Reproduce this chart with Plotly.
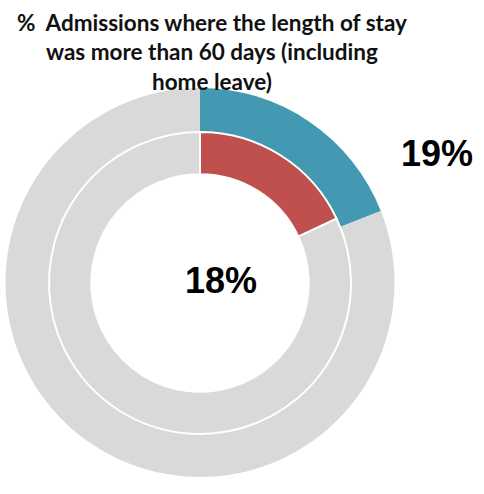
import plotly.graph_objects as go

W, H = 484, 494
outer_labels = ["More than 60 days", "Other"]
outer_values = [19, 81]
inner_labels = ["More than 60 days", "Other"]
inner_values = [18, 82]
title_lines = ["%  Admissions where the length of stay", "was more than 60 days (including", "home leave)"]
outer_text = "19%"
inner_text = "18%"

teal = "#4399B1"
red = "#C0504D"
gray = "#D9D9D9"

def px_dom(x0, x1, y0, y1):
    return dict(x=[x0 / W, x1 / W], y=[1 - y1 / H, 1 - y0 / H])

fig = go.Figure()
fig.add_trace(go.Pie(
    labels=outer_labels, values=outer_values, sort=False, direction="clockwise", rotation=0,
    hole=150 / 194.5, marker=dict(colors=[teal, gray], line=dict(width=0)),
    textinfo="none", hoverinfo="label+value", domain=px_dom(5.5, 394.5, 88, 477), showlegend=False))
fig.add_trace(go.Pie(
    labels=inner_labels, values=inner_values, sort=False, direction="clockwise", rotation=0,
    hole=108 / 150, marker=dict(colors=[red, gray], line=dict(color="white", width=2)),
    textinfo="none", hoverinfo="label+value", domain=px_dom(49, 351, 132, 434), showlegend=False))

fig.add_annotation(text="<br>".join(title_lines), x=212 / W, y=1 - 7 / H, xref="paper", yref="paper",
                   xanchor="center", yanchor="top", showarrow=False, align="center",
                   font=dict(family="Lato", size=22.5, color="#111111", weight="bold"))
fig.add_annotation(text=outer_text, x=437 / W, y=1 - 153 / H, xref="paper", yref="paper",
                   xanchor="center", yanchor="middle", showarrow=False,
                   font=dict(family="Liberation Sans", size=36, color="black", weight="bold"))
fig.add_annotation(text=inner_text, x=221 / W, y=1 - 280 / H, xref="paper", yref="paper",
                   xanchor="center", yanchor="middle", showarrow=False,
                   font=dict(family="Liberation Sans", size=36, color="black", weight="bold"))

fig.update_layout(width=W, height=H, margin=dict(l=0, r=0, t=0, b=0),
                  paper_bgcolor="white", plot_bgcolor="white")
fig.write_html("out.html", config={"displayModeBar": False},
               post_script="document.body.style.margin='0';")
